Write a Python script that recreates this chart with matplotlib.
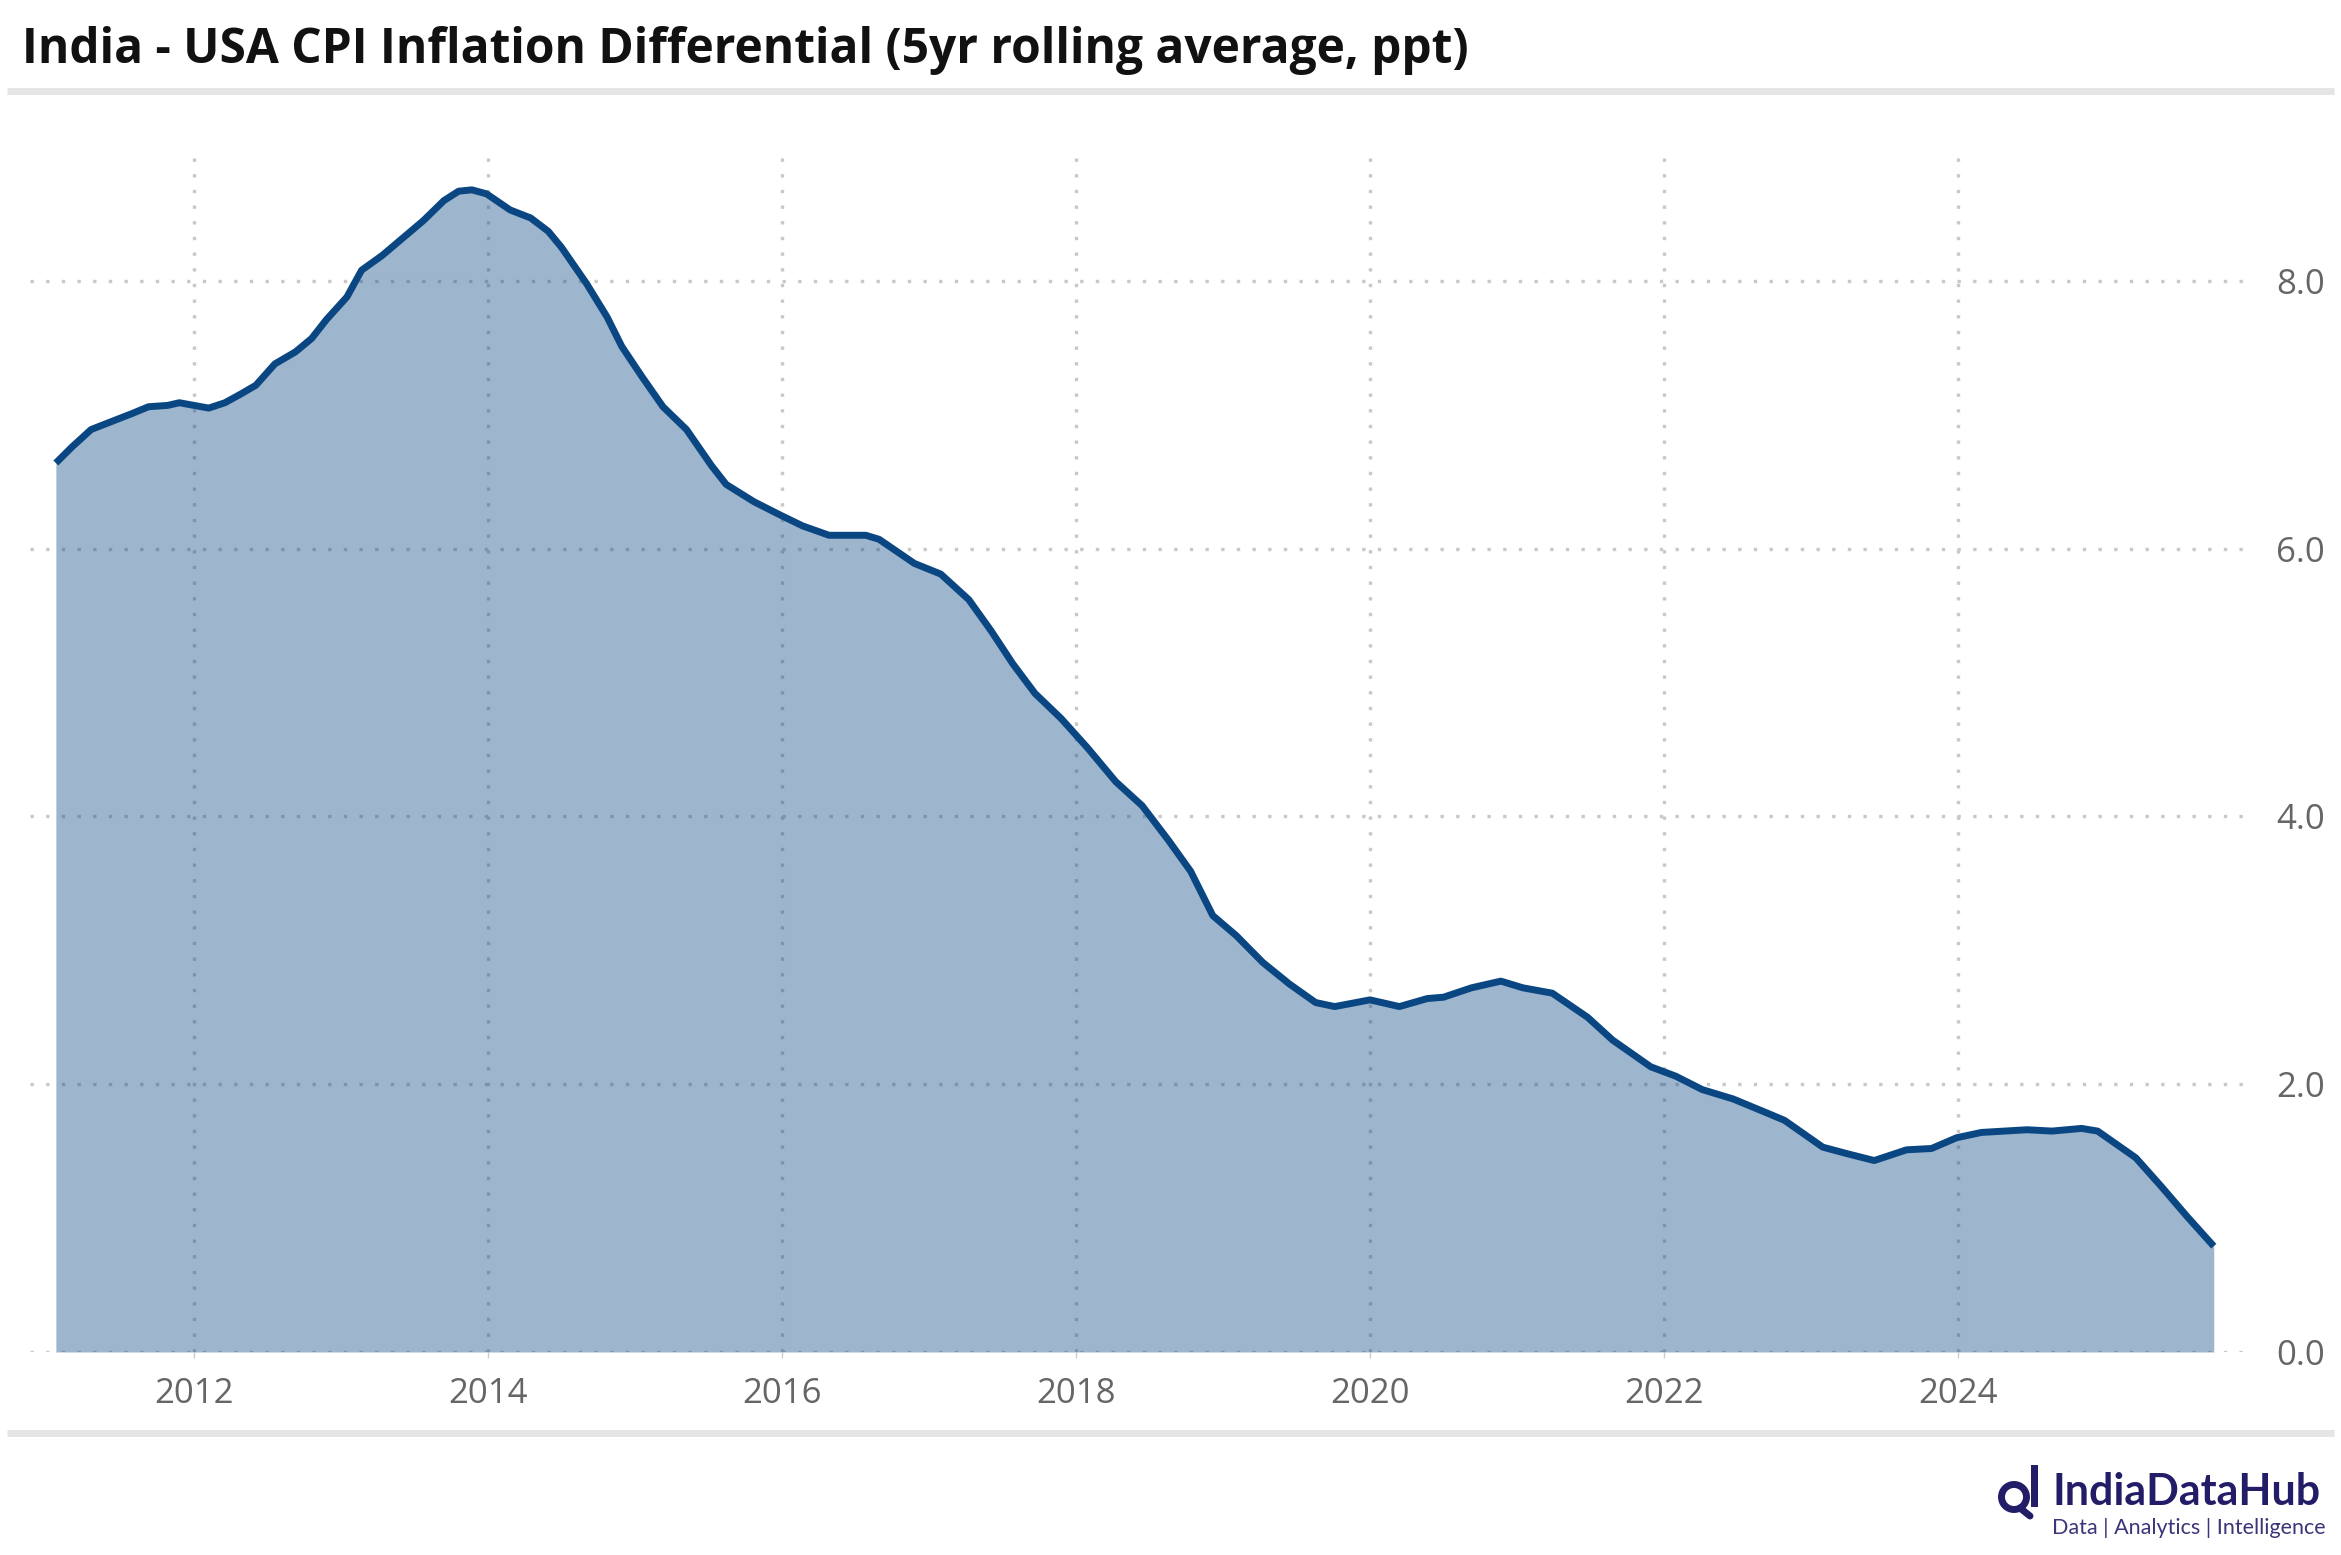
import matplotlib.pyplot as plt
from matplotlib.patches import Circle, Rectangle

# 5yr rolling avg differential (decimal year, ppt)
years = [2011.06, 2011.17, 2011.30, 2011.44, 2011.58, 2011.69, 2011.82, 2011.90,
         2012.00, 2012.10, 2012.21, 2012.31, 2012.42, 2012.55, 2012.69, 2012.80,
         2012.90, 2013.04, 2013.14, 2013.28, 2013.42, 2013.56, 2013.70, 2013.80,
         2013.89, 2013.99, 2014.15, 2014.29, 2014.41, 2014.50, 2014.67, 2014.81,
         2014.91, 2015.05, 2015.19, 2015.35, 2015.52, 2015.62, 2015.81, 2015.99,
         2016.14, 2016.32, 2016.57, 2016.66, 2016.90, 2017.08, 2017.27, 2017.42,
         2017.57, 2017.72, 2017.90, 2018.08, 2018.27, 2018.45, 2018.63, 2018.78,
         2018.93, 2019.09, 2019.27, 2019.45, 2019.63, 2019.76, 2020.00, 2020.20,
         2020.39, 2020.50, 2020.69, 2020.89, 2021.04, 2021.24, 2021.48, 2021.65,
         2021.91, 2022.08, 2022.26, 2022.47, 2022.69, 2022.82, 2023.08, 2023.25,
         2023.43, 2023.65, 2023.82, 2023.99, 2024.16, 2024.47, 2024.64, 2024.84,
         2024.95, 2025.21, 2025.38, 2025.56, 2025.74]
diff = [6.64, 6.76, 6.89, 6.95, 7.01, 7.06, 7.07, 7.09,
        7.07, 7.05, 7.09, 7.15, 7.22, 7.38, 7.47, 7.57,
        7.71, 7.88, 8.08, 8.19, 8.32, 8.45, 8.60, 8.67,
        8.68, 8.65, 8.53, 8.47, 8.37, 8.25, 7.98, 7.73,
        7.51, 7.28, 7.06, 6.89, 6.62, 6.48, 6.35, 6.25,
        6.17, 6.10, 6.10, 6.07, 5.89, 5.81, 5.62, 5.39,
        5.14, 4.92, 4.73, 4.51, 4.26, 4.08, 3.82, 3.59,
        3.26, 3.11, 2.91, 2.75, 2.61, 2.58, 2.63, 2.58,
        2.64, 2.65, 2.72, 2.77, 2.72, 2.68, 2.50, 2.33,
        2.13, 2.06, 1.96, 1.89, 1.79, 1.73, 1.53, 1.48,
        1.43, 1.51, 1.52, 1.60, 1.64, 1.66, 1.65, 1.67,
        1.65, 1.45, 1.24, 1.01, 0.79]

xticks = [2012, 2014, 2016, 2018, 2020, 2022, 2024]
yticks = [0, 2, 4, 6, 8]

W, H = 2341, 1555
blue = '#0a4782'
grey_txt = '#666666'

fig = plt.figure(figsize=(W / 100, H / 100), dpi=100)

# main chart, placed in pixel terms
l, r, b, t = 30, 2247, 1352, 147
ax = fig.add_axes([l / W, 1 - b / H, (r - l) / W, (b - t) / H])
ax.fill_between(years, diff, 0, color=blue, alpha=0.4, linewidth=0, zorder=2)
ax.plot(years, diff, color=blue, lw=5, solid_joinstyle='round',
        solid_capstyle='butt', zorder=3)

ax.set_xlim(2010.884, 2025.966)
ax.set_ylim(0, 9)
ax.set_xticks(xticks)
ax.set_xticklabels([str(v) for v in xticks])
ax.set_yticks(yticks)
ax.set_yticklabels([f'{v:.1f}' for v in yticks])
ax.yaxis.tick_right()
ax.set_axisbelow(True)
ax.grid(True, color='#c8c8c8', lw=2.4, linestyle=(0, (1, 3.7)))
for s in ax.spines.values():
    s.set_visible(False)
ax.tick_params(axis='x', length=4, width=1, color='#cccccc', pad=14,
               labelsize=25, labelcolor=grey_txt)
ax.tick_params(axis='y', length=0, pad=21, labelsize=25, labelcolor=grey_txt)
for lab in ax.get_xticklabels() + ax.get_yticklabels():
    lab.set_fontfamily('Open Sans')

# overlay in pixel coords for title, rules and logo
ov = fig.add_axes([0, 0, 1, 1])
ov.set_xlim(0, W)
ov.set_ylim(H, 0)
ov.axis('off')
ov.patch.set_alpha(0)

ov.text(22, 63, 'India - USA CPI Inflation Differential (5yr rolling average, ppt)',
        fontsize=34.5, fontweight='bold', family='Open Sans', color='#111111',
        va='baseline', ha='left')
ov.plot([7, 2334], [90.5, 90.5], color='#e5e5e5', lw=5, solid_capstyle='butt')
ov.plot([7, 2334], [1432.5, 1432.5], color='#e5e5e5', lw=5, solid_capstyle='butt')

navy = '#221d66'
ov.add_patch(Circle((2014, 1497), 12.5, fill=False, ec=navy, lw=5))
ov.add_patch(Rectangle((2031, 1465), 7, 42, color=navy, lw=0))
ov.plot([2020, 2030], [1508, 1516], color=navy, lw=5, solid_capstyle='round')
ov.text(2053, 1505, 'IndiaDataHub', fontsize=31, fontweight='bold', family='Lato',
        color=navy, va='baseline', ha='left')
ov.text(2052, 1534, 'Data | Analytics | Intelligence', fontsize=15.5, family='Lato',
        color='#3a3679', va='baseline', ha='left')

fig.savefig('out.png', dpi=100)
